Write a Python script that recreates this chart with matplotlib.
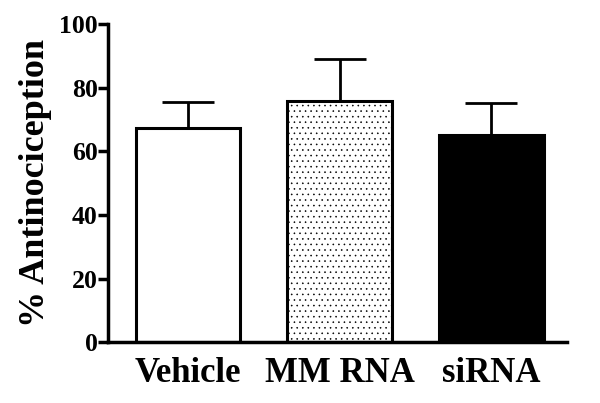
import matplotlib.pyplot as plt

groups = ['Vehicle', 'MM RNA', 'siRNA']
means = [67.5, 75.8, 65.3]
sems = [8.0, 13.2, 10.0]

plt.rcParams['font.family'] = 'Liberation Serif'
plt.rcParams['font.weight'] = 'bold'
plt.rcParams['hatch.linewidth'] = 0.4
plt.rcParams['hatch.color'] = '#444444'

fig = plt.figure(figsize=(6, 4.03), dpi=100)
ax = fig.add_axes([0.18, 0.151, 0.765, 0.789])

x = range(len(groups))
ax.bar(x, means, width=0.69, color=['white', 'white', 'black'],
       edgecolor='black', linewidth=2.2, hatch=[None, '...', None], zorder=2)
ax.errorbar(x, means, yerr=[[0] * len(means), sems], fmt='none',
            ecolor='black', elinewidth=2.0, capsize=19, capthick=2.0, zorder=1)

ax.set_xlim(-0.528, 2.5)
ax.set_ylim(0, 100)
ax.set_yticks([0, 20, 40, 60, 80, 100])
ax.set_xticks(list(x))
ax.set_xticklabels(groups, fontsize=25, fontweight='bold')
ax.tick_params(axis='x', length=0, pad=11)
ax.tick_params(axis='y', length=7, width=2.5, labelsize=18.5, pad=0.5)
for lab in ax.get_yticklabels():
    lab.set_fontweight('bold')

ax.spines['top'].set_visible(False)
ax.spines['right'].set_visible(False)
ax.spines['left'].set_linewidth(2.5)
ax.spines['bottom'].set_linewidth(2.5)

ax.set_ylabel('% Antinociception', fontsize=26, fontweight='bold', labelpad=5)

fig.savefig('out.png', dpi=100)
plt.close(fig)
